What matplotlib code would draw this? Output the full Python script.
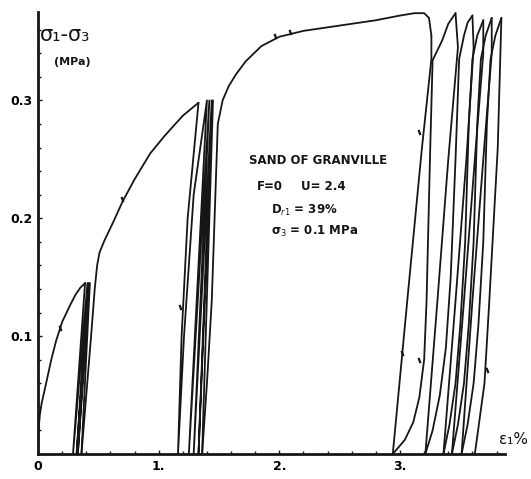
import matplotlib
matplotlib.use("Agg")
import matplotlib.pyplot as plt

# ---- data (strain %, deviator stress MPa) ----
load1_eps = [0, 0.005, 0.015, 0.03, 0.05, 0.08, 0.11, 0.15, 0.20, 0.26, 0.31, 0.35, 0.39]
load1_sig = [0, 0.020, 0.033, 0.043, 0.052, 0.066, 0.080, 0.096, 0.112, 0.125, 0.135, 0.141, 0.145]

# first group of cycles (q max ~ 0.145)
cyc1_eps = [0.39, 0.29, 0.41, 0.32, 0.42, 0.33, 0.43, 0.36]
cyc1_sig = [0.145, 0, 0.145, 0, 0.145, 0, 0.145, 0]

load2_eps = [0.36, 0.40, 0.44, 0.47, 0.49, 0.51, 0.55, 0.62, 0.70, 0.80, 0.93, 1.05, 1.20, 1.33]
load2_sig = [0, 0.05, 0.10, 0.14, 0.160, 0.171, 0.181, 0.196, 0.214, 0.233, 0.255, 0.270, 0.287, 0.298]

# second group of cycles (q max ~ 0.30)
cyc2_eps = [1.33, 1.24, 1.19, 1.16, 1.21, 1.29, 1.40, 1.25, 1.42, 1.29, 1.44, 1.33, 1.45, 1.36]
cyc2_sig = [0.298, 0.20, 0.10, 0, 0.10, 0.22, 0.300, 0, 0.300, 0, 0.300, 0, 0.300, 0]

load3_eps = [1.36, 1.40, 1.44, 1.47, 1.49, 1.53, 1.58, 1.64, 1.72, 1.85, 2.00, 2.20, 2.40, 2.60,
             2.80, 3.00, 3.12, 3.20, 3.24, 3.26]
load3_sig = [0, 0.06, 0.13, 0.22, 0.280, 0.300, 0.312, 0.322, 0.333, 0.346, 0.354, 0.359, 0.362,
             0.365, 0.368, 0.372, 0.374, 0.374, 0.370, 0.355]

# third group of cycles (q max ~ 0.37): unloading / reloading branches
unl0_eps = [3.26, 3.26, 3.18, 3.06, 2.94]
unl0_sig = [0.355, 0.335, 0.258, 0.13, 0]
rel1_eps = [2.94, 3.04, 3.11, 3.16, 3.20, 3.22, 3.25, 3.27, 3.35, 3.40, 3.46]
rel1_sig = [0, 0.012, 0.027, 0.048, 0.08, 0.13, 0.258, 0.334, 0.351, 0.365, 0.374]
unl1_eps = [3.46, 3.48, 3.40, 3.31, 3.21]
unl1_sig = [0.374, 0.345, 0.25, 0.13, 0]
rel2_eps = [3.21, 3.27, 3.33, 3.38, 3.42, 3.46, 3.49, 3.53, 3.56, 3.60]
rel2_sig = [0, 0.020, 0.05, 0.09, 0.15, 0.25, 0.335, 0.355, 0.366, 0.372]
unl2_eps = [3.60, 3.61, 3.55, 3.46, 3.36]
unl2_sig = [0.372, 0.345, 0.25, 0.13, 0]
rel3_eps = [3.36, 3.41, 3.46, 3.50, 3.54, 3.57, 3.60, 3.64, 3.69]
rel3_sig = [0, 0.025, 0.06, 0.11, 0.18, 0.28, 0.335, 0.355, 0.368]
unl3_eps = [3.69, 3.69, 3.62, 3.53, 3.43]
unl3_sig = [0.368, 0.34, 0.25, 0.13, 0]
rel4_eps = [3.43, 3.48, 3.53, 3.57, 3.61, 3.64, 3.67, 3.71, 3.76]
rel4_sig = [0, 0.025, 0.06, 0.11, 0.18, 0.28, 0.335, 0.355, 0.370]
unl4_eps = [3.76, 3.76, 3.69, 3.60, 3.51]
unl4_sig = [0.370, 0.34, 0.25, 0.13, 0]
rel5_eps = [3.51, 3.56, 3.61, 3.65, 3.69, 3.72, 3.75, 3.79, 3.84]
rel5_sig = [0, 0.025, 0.06, 0.11, 0.18, 0.28, 0.335, 0.355, 0.370]
unl5_eps = [3.84, 3.81, 3.74, 3.70, 3.62]
unl5_sig = [0.370, 0.26, 0.13, 0.06, 0]

# small hand-drawn direction marks on the curves
mark_eps = [0.18, 0.70, 1.18, 1.96, 2.09, 3.16, 3.02, 3.16, 3.72]
mark_sig = [0.107, 0.216, 0.125, 0.355, 0.358, 0.273, 0.086, 0.080, 0.071]

xtick_vals = [0, 1, 2, 3]
xtick_labels = ["0", "1.", "2.", "3."]
ytick_vals = [0.1, 0.2, 0.3]
ytick_labels = ["0.1", "0.2", "0.3"]

branches = [
    (load1_eps, load1_sig), (cyc1_eps, cyc1_sig), (load2_eps, load2_sig),
    (cyc2_eps, cyc2_sig), (load3_eps, load3_sig),
    (unl0_eps, unl0_sig), (rel1_eps, rel1_sig), (unl1_eps, unl1_sig),
    (rel2_eps, rel2_sig), (unl2_eps, unl2_sig), (rel3_eps, rel3_sig),
    (unl3_eps, unl3_sig), (rel4_eps, rel4_sig), (unl4_eps, unl4_sig),
    (rel5_eps, rel5_sig), (unl5_eps, unl5_sig),
]

W, H = 531, 479
fig = plt.figure(figsize=(W / 100, H / 100), dpi=100)
ax = fig.add_axes([38 / W, 1 - 454 / H, (505 - 38) / W, (454 - 12) / H])

ink = "#161616"
for e, s in branches:
    ax.plot(e, s, color=ink, lw=1.3, solid_joinstyle="round", solid_capstyle="round")
ax.plot(mark_eps, mark_sig, ls="none", marker=(2, 0, 20), ms=4, mew=1.6, color=ink)

ax.set_xlim(0, 3.87)
ax.set_ylim(0, 0.375)
for side in ["top", "right"]:
    ax.spines[side].set_visible(False)
ax.spines["left"].set_linewidth(2.0)
ax.spines["bottom"].set_linewidth(2.0)
ax.spines["left"].set_color(ink)
ax.spines["bottom"].set_color(ink)

ax.set_xticks(xtick_vals)
ax.set_xticklabels(xtick_labels, fontsize=9, fontweight="bold")
ax.set_yticks(ytick_vals)
ax.set_yticklabels(ytick_labels, fontsize=9, fontweight="bold")
ax.set_xticks([i * 0.2 for i in range(1, 20)], minor=True)
ax.set_yticks([i * 0.02 for i in range(1, 19)], minor=True)
ax.tick_params(which="both", direction="in", color=ink, width=1.0)
ax.tick_params(which="major", length=3, pad=4)
ax.tick_params(which="minor", length=2)
ax.tick_params(axis="y", pad=4)

def ftext(px, py, s, **kw):
    fig.text(px / W, 1 - py / H, s, color=ink, **kw)

ftext(40, 35, "σ₁-σ₃", fontsize=15, va="center")
ftext(54, 62, "(MPa)", fontsize=8, fontweight="bold", va="center")
ftext(499, 440, "ε₁%", fontsize=11, va="center")

ftext(249, 160, "SAND OF GRANVILLE", fontsize=8.5, fontweight="bold", va="center")
ftext(257, 187, "F=0", fontsize=8.5, fontweight="bold", va="center")
ftext(301, 187, "U= 2.4", fontsize=8.5, fontweight="bold", va="center")
ftext(271, 210, "D$_{r1}$ = 39%", fontsize=8.5, fontweight="bold", va="center")
ftext(271, 231, "σ$_3$ = 0.1 MPa", fontsize=8.5, fontweight="bold", va="center")

fig.savefig("out.png", dpi=100)
